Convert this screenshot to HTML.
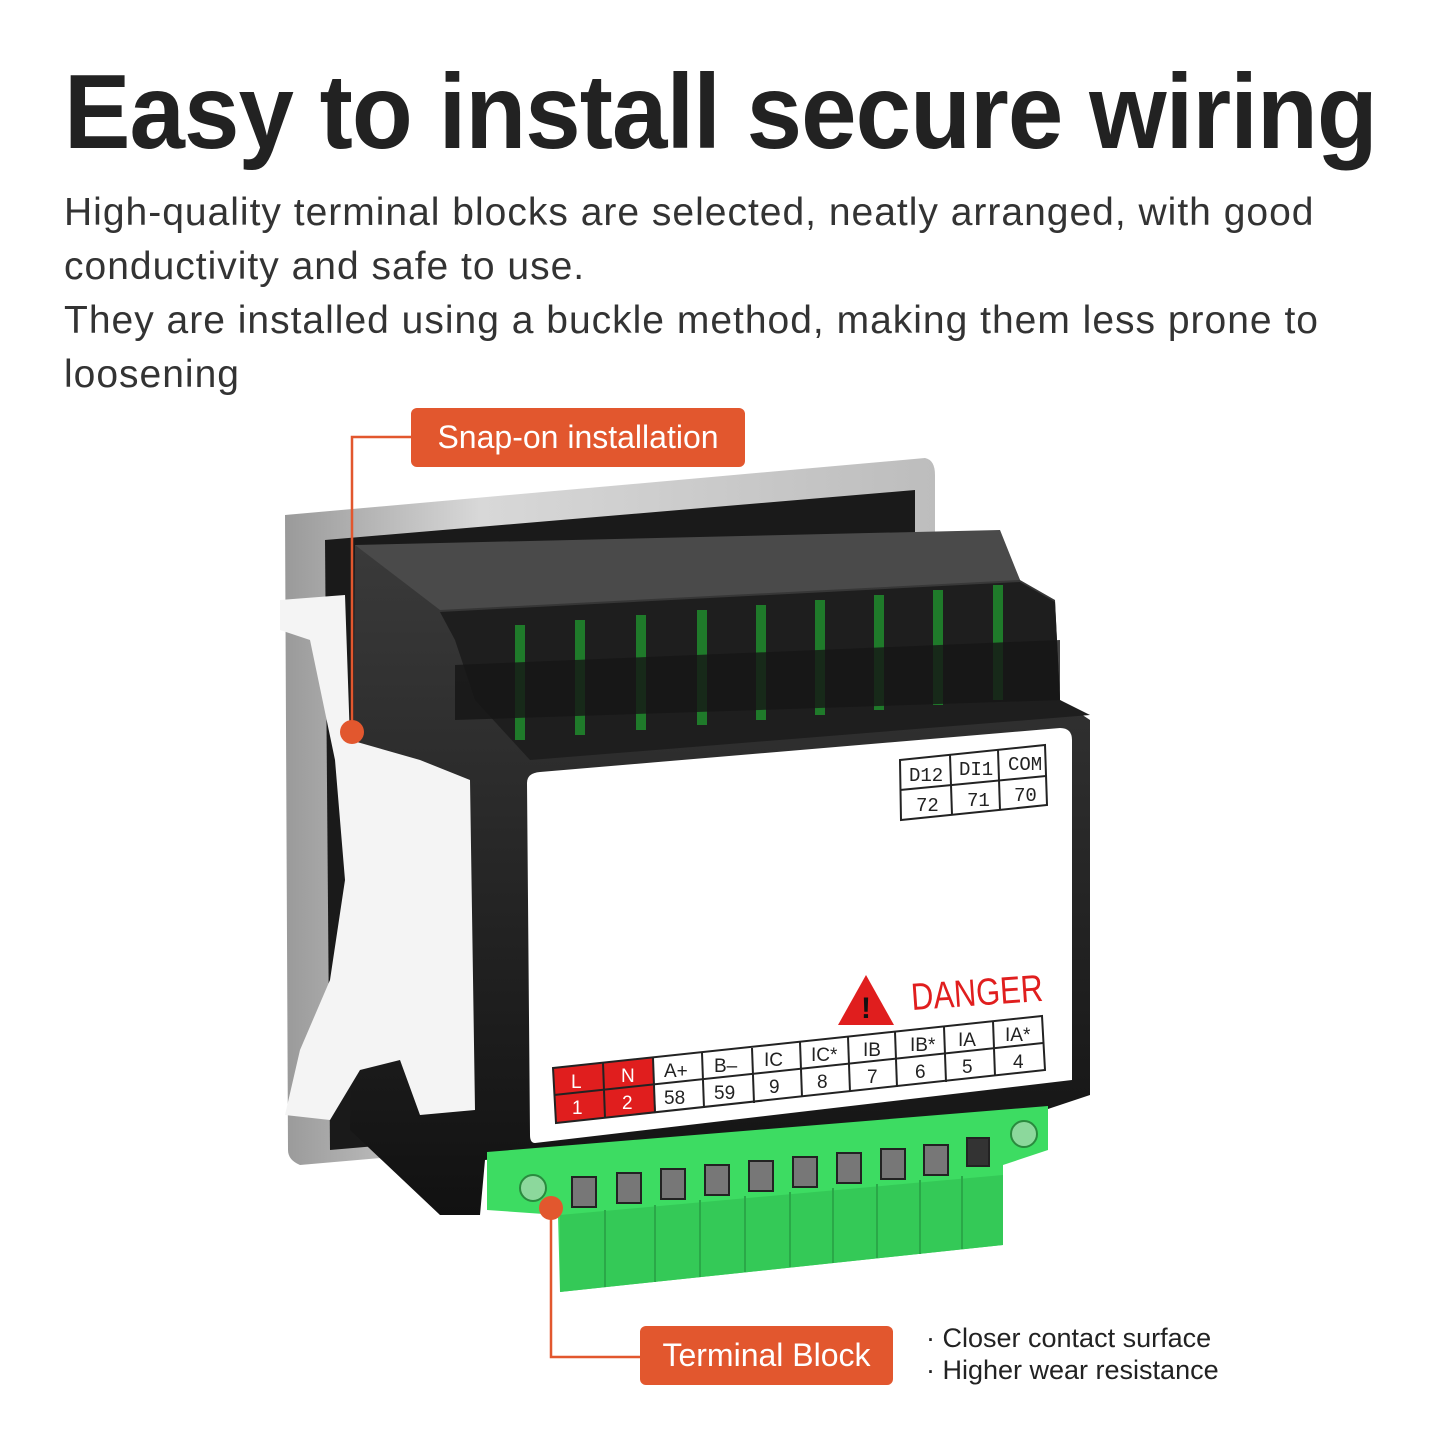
<!DOCTYPE html>
<html><head><meta charset="utf-8"><style>
html,body{margin:0;padding:0;background:#fff;}
body{width:1440px;height:1440px;position:relative;overflow:hidden;font-family:"Liberation Sans",sans-serif;}
h1{position:absolute;left:64px;top:52px;margin:0;font-size:106px;font-weight:bold;color:#222;letter-spacing:-1px;white-space:nowrap;transform:scaleX(0.94);transform-origin:0 0;}
.p{position:absolute;left:64px;top:186px;width:1360px;font-size:39px;line-height:54px;color:#333;letter-spacing:1px;}
.lab{position:absolute;background:#E2572E;color:#fff;font-size:32px;border-radius:6px;text-align:center;line-height:59px;height:59px;}
.bul{position:absolute;left:926px;font-size:27px;color:#222;white-space:nowrap;}
svg{position:absolute;left:0;top:0;}
</style></head><body>
<svg width="1440" height="1440" viewBox="0 0 1440 1440">
<defs>
<linearGradient id="fr" x1="0" y1="0" x2="1" y2="0"><stop offset="0" stop-color="#9a9a9a"/><stop offset=".3" stop-color="#d8d8d8"/><stop offset="1" stop-color="#bdbdbd"/></linearGradient>
<linearGradient id="bk" x1="0" y1="0" x2="0" y2="1"><stop offset="0" stop-color="#3a3a3a"/><stop offset="1" stop-color="#111"/></linearGradient>
</defs>
<path d="M285 515 L925 458 Q935 460 935 475 L935 1110 L300 1165 Q288 1160 288 1150 Z" fill="url(#fr)"/>
<path d="M325 540 L915 490 L915 1100 L330 1150 Z" fill="#1a1a1a"/>
<path d="M355 545 L1005 545 L1020 580 L1055 600 L1060 700 L1090 720 L1090 1095 L1045 1110 L485 1160 L480 1215 L440 1215 L350 1130 Z" fill="url(#bk)"/>
<path d="M355 545 L1000 530 L1020 580 L440 610 Z" fill="#4a4a4a"/>
<path d="M440 612 L1020 582 L1055 602 L1060 700 L1090 715 L530 760 L475 700 L455 640 Z" fill="#1e1e1e"/>
<g stroke="#1f7a2a" stroke-width="10">
<line x1="520" y1="625" x2="520" y2="740"/><line x1="580" y1="620" x2="580" y2="735"/><line x1="641" y1="615" x2="641" y2="730"/>
<line x1="702" y1="610" x2="702" y2="725"/><line x1="761" y1="605" x2="761" y2="720"/><line x1="820" y1="600" x2="820" y2="715"/>
<line x1="879" y1="595" x2="879" y2="710"/><line x1="938" y1="590" x2="938" y2="705"/><line x1="998" y1="585" x2="998" y2="700"/>
</g>
<path d="M455 665 L1060 640 L1060 700 L455 720 Z" fill="#151515" opacity=".8"/>
<path d="M280 600 L345 595 L350 740 L420 760 L470 780 L475 1110 L420 1115 L400 1060 L360 1070 L330 1120 L285 1115 L300 1050 L330 980 L345 880 L335 760 L310 640 L280 630 Z" fill="#f4f4f4"/>
<path d="M527 783 Q527 773 540 772 L1060 728 Q1072 728 1072 740 L1072 1080 L535 1143 Q530 1143 530 1135 Z" fill="#fff"/>
<g fill="none" stroke="#222" stroke-width="2">
<path d="M900 760 L1045 745 L1047 805 L901 820 Z"/><line x1="900" y1="790" x2="1046" y2="776"/>
<line x1="950" y1="755" x2="952" y2="815"/><line x1="998" y1="750" x2="1000" y2="810"/>
</g>
<g font-family="Liberation Mono,monospace" font-size="19" fill="#222">
<text x="909" y="781">D12</text><text x="959" y="775">DI1</text><text x="1008" y="770">COM</text>
<text x="916" y="811">72</text><text x="967" y="806">71</text><text x="1014" y="801">70</text>
</g>
<path d="M866 975 L894 1025 L838 1025 Z" fill="#e01e1e"/>
<text x="861" y="1018" font-size="30" font-weight="bold" fill="#111">!</text>
<text x="912" y="1010" font-size="38" fill="#e01e1e" textLength="132" lengthAdjust="spacingAndGlyphs" transform="rotate(-4 912 1010)">DANGER</text>
<path d="M553 1068 L653 1058 L656 1113 L556 1123 Z" fill="#e01e1e"/>
<g fill="none" stroke="#222" stroke-width="2">
<path d="M553 1068 L1042 1016 L1045 1070 L556 1123 Z"/><line x1="554" y1="1095" x2="1043" y2="1043"/>
<line x1="603" y1="1063" x2="605" y2="1118"/><line x1="653" y1="1058" x2="655" y2="1113"/><line x1="702" y1="1053" x2="704" y2="1108"/>
<line x1="752" y1="1048" x2="754" y2="1103"/><line x1="800" y1="1042" x2="802" y2="1097"/><line x1="848" y1="1037" x2="850" y2="1092"/>
<line x1="895" y1="1032" x2="897" y2="1087"/><line x1="944" y1="1027" x2="946" y2="1082"/><line x1="993" y1="1021" x2="995" y2="1076"/>
</g>
<g font-size="19" fill="#222">
<text x="571" y="1088" fill="#fff">L</text><text x="621" y="1082" fill="#fff">N</text><text x="664" y="1077">A+</text><text x="714" y="1072">B–</text>
<text x="764" y="1066">IC</text><text x="811" y="1061">IC*</text><text x="863" y="1056">IB</text><text x="910" y="1051">IB*</text><text x="958" y="1046">IA</text><text x="1005" y="1041">IA*</text>
<text x="572" y="1114" fill="#fff">1</text><text x="622" y="1109" fill="#fff">2</text><text x="664" y="1104">58</text><text x="714" y="1099">59</text>
<text x="769" y="1093">9</text><text x="817" y="1088">8</text><text x="867" y="1083">7</text><text x="915" y="1078">6</text><text x="962" y="1073">5</text><text x="1013" y="1068">4</text>
</g>
<path d="M487 1152 L1048 1106 L1048 1150 L1003 1165 L1003 1245 L560 1292 L558 1215 L487 1210 Z" fill="#3ddc62"/>
<path d="M560 1215 L1003 1175 L1003 1245 L560 1292 Z" fill="#34c957"/>
<g stroke="#2aa848" stroke-width="2">
<line x1="605" y1="1210" x2="605" y2="1287"/><line x1="655" y1="1205" x2="655" y2="1282"/><line x1="700" y1="1200" x2="700" y2="1277"/>
<line x1="745" y1="1196" x2="745" y2="1272"/><line x1="790" y1="1192" x2="790" y2="1267"/><line x1="833" y1="1188" x2="833" y2="1263"/>
<line x1="877" y1="1184" x2="877" y2="1258"/><line x1="920" y1="1180" x2="920" y2="1254"/><line x1="962" y1="1176" x2="962" y2="1249"/>
</g>
<g fill="#777" stroke="#222" stroke-width="2">
<rect x="572" y="1177" width="24" height="30"/><rect x="617" y="1173" width="24" height="30"/><rect x="661" y="1169" width="24" height="30"/>
<rect x="705" y="1165" width="24" height="30"/><rect x="749" y="1161" width="24" height="30"/><rect x="793" y="1157" width="24" height="30"/>
<rect x="837" y="1153" width="24" height="30"/><rect x="881" y="1149" width="24" height="30"/><rect x="924" y="1145" width="24" height="30"/><rect x="967" y="1138" width="22" height="28" fill="#333"/>
</g>
<circle cx="533" cy="1188" r="13" fill="#8cd89c" stroke="#2a8a3e" stroke-width="2"/>
<circle cx="1024" cy="1134" r="13" fill="#8cd89c" stroke="#2a8a3e" stroke-width="2"/>
<g stroke="#E2572E" stroke-width="2.5" fill="none">
<polyline points="411,437 352,437 352,732"/>
<polyline points="551,1208 551,1357 640,1357"/>
</g>
<circle cx="352" cy="732" r="12" fill="#E2572E"/>
<circle cx="551" cy="1208" r="12" fill="#E2572E"/>
</svg>
<h1>Easy to install secure wiring</h1>
<div class="p">High-quality terminal blocks are selected, neatly arranged, with good conductivity and safe to use.<br>They are installed using a buckle method, making them less prone to loosening</div>
<div class="lab" style="left:411px;top:408px;width:334px;">Snap-on installation</div>
<div class="lab" style="left:640px;top:1326px;width:253px;">Terminal Block</div>
<div class="bul" style="top:1323px;">· Closer contact surface</div>
<div class="bul" style="top:1355px;">· Higher wear resistance</div>
</body></html>
